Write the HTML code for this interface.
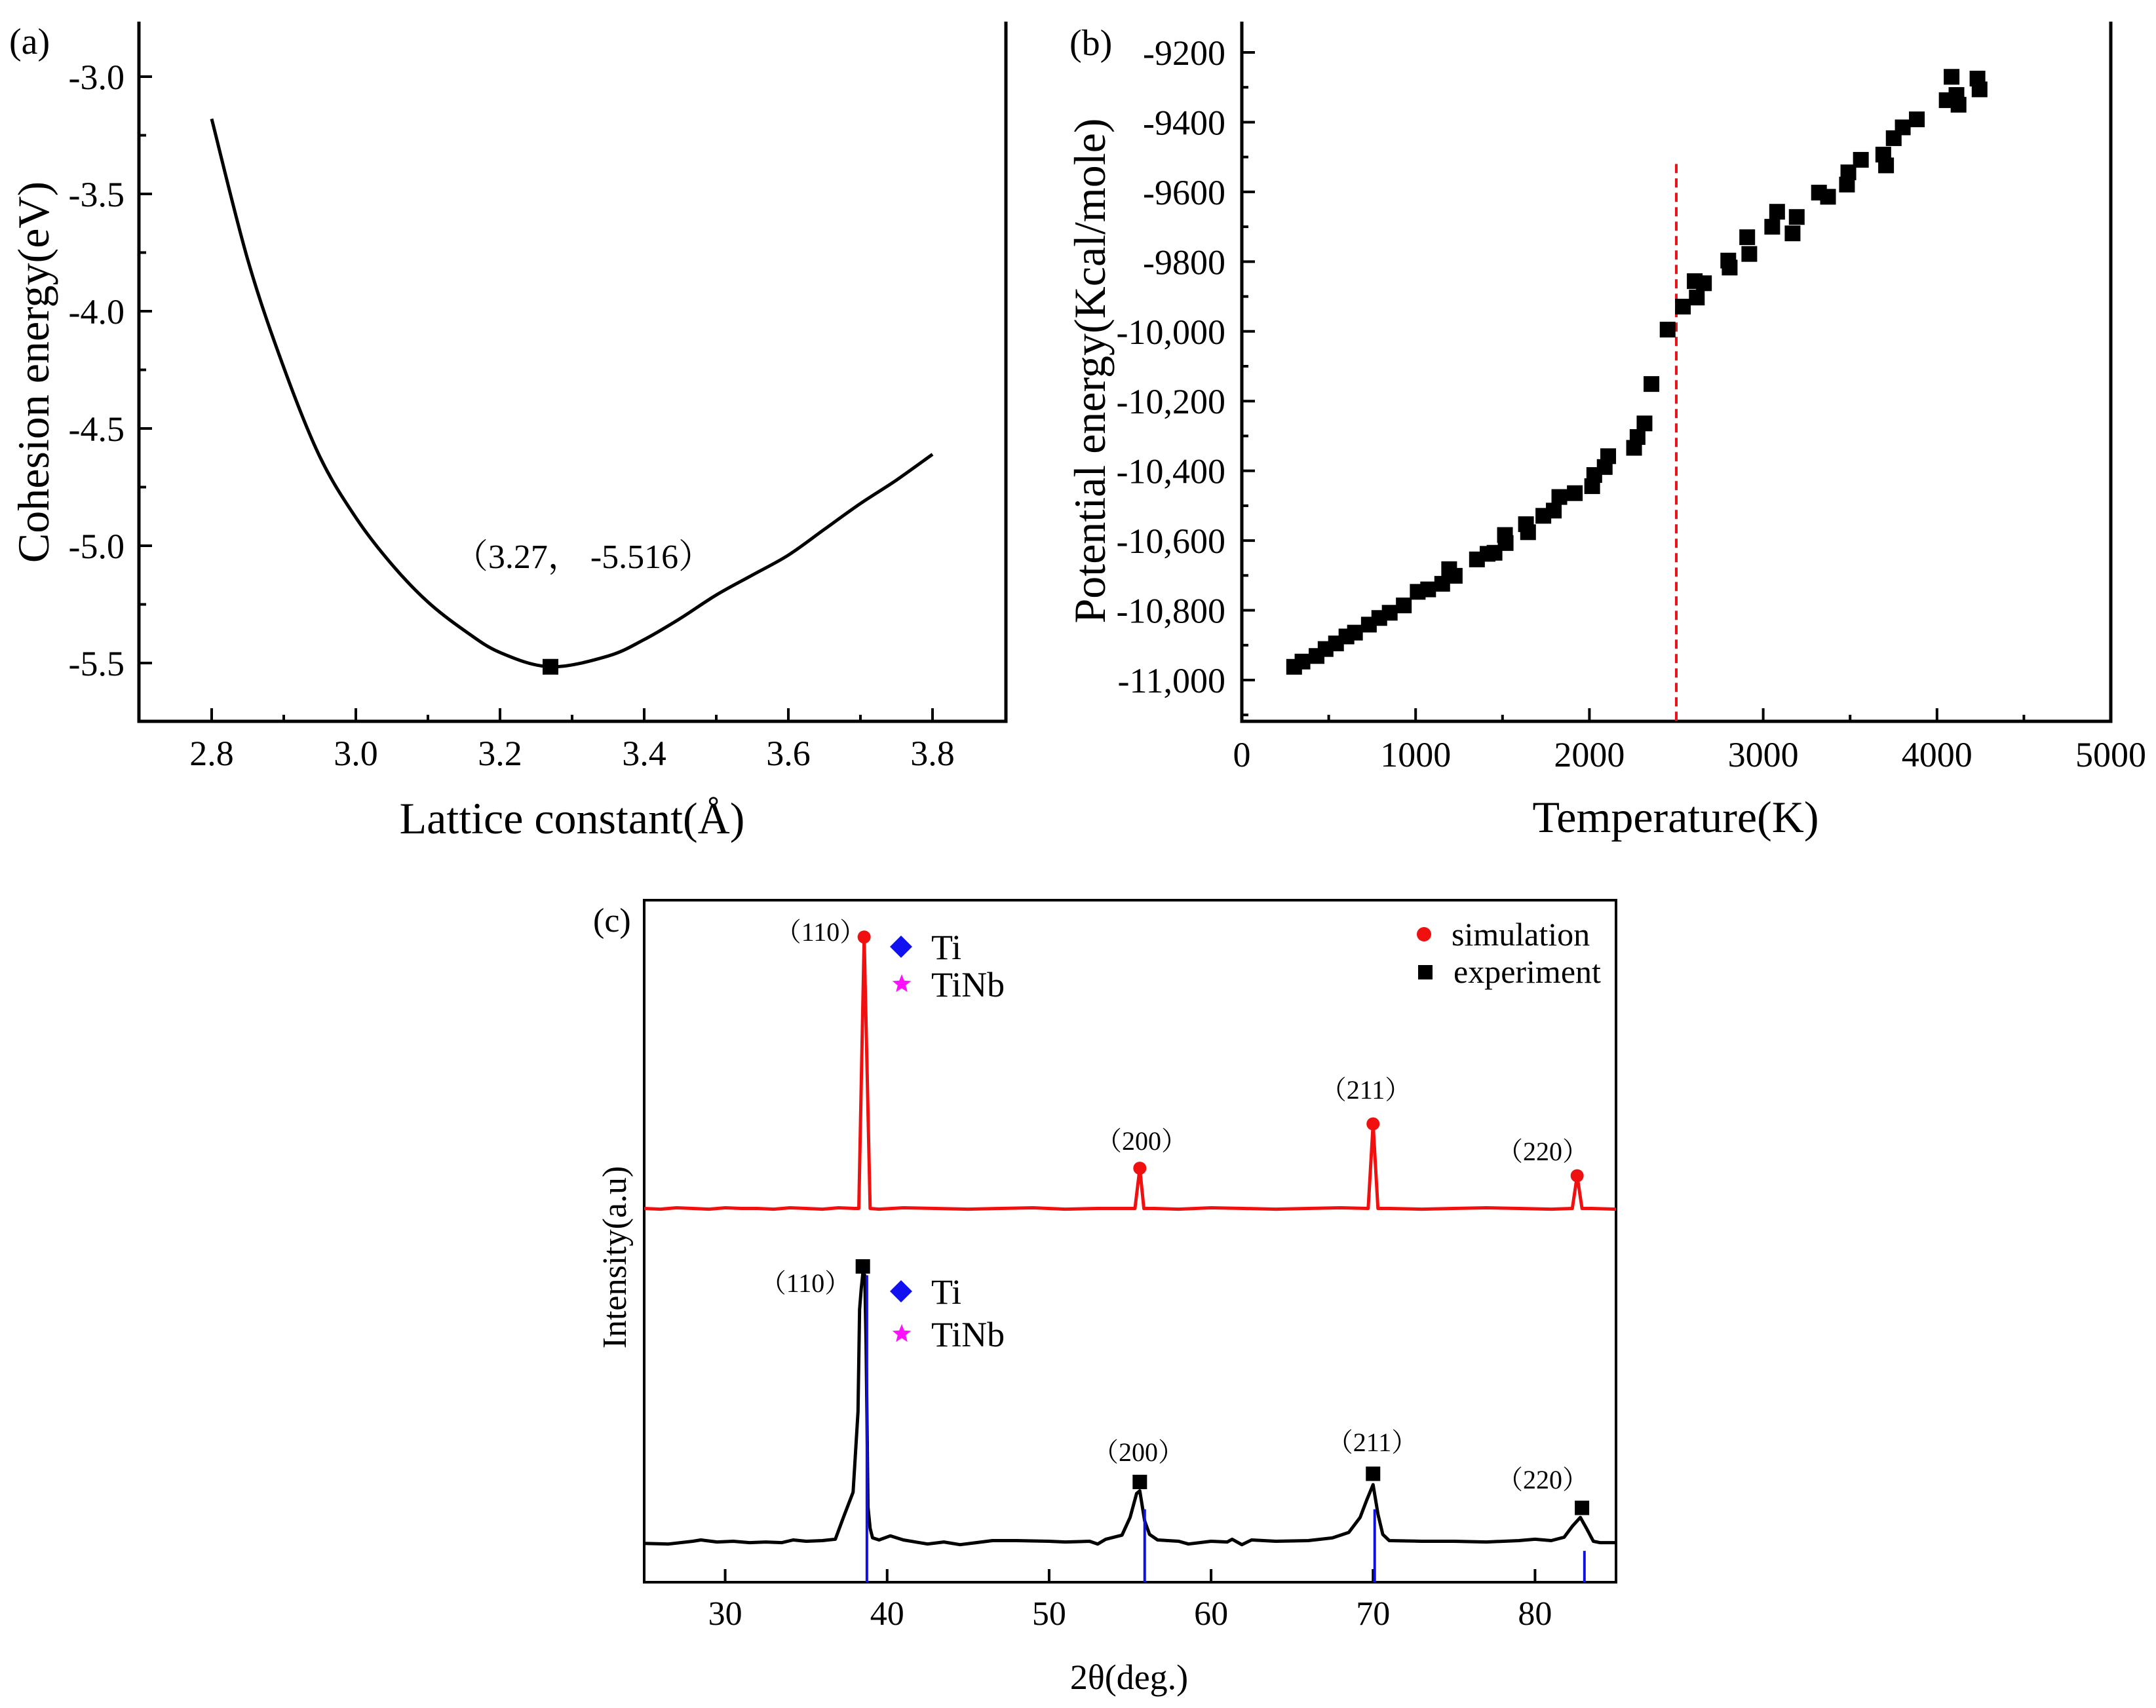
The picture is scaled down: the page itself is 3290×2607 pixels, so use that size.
<!DOCTYPE html>
<html><head><meta charset="utf-8"><style>
html,body{margin:0;padding:0;background:#fff;}
svg{display:block;font-family:"Liberation Serif","Noto Serif CJK SC",serif;}
</style></head><body>
<svg id="fig" width="3290" height="2607" viewBox="0 0 3290 2607" xmlns="http://www.w3.org/2000/svg">
<rect width="3290" height="2607" fill="#fff"/>
<g id="pa"></g>
<g id="pb"></g>
<g id="pc"></g>
</svg>
<script>
// ---- Panel (a) data ----
const aX = [2.8,2.85,2.9,2.95,3.0,3.05,3.1,3.15,3.2,3.27,3.35,3.4,3.45,3.5,3.55,3.6,3.65,3.7,3.75,3.8];
const aY = [-3.18,-3.78,-4.24,-4.62,-4.88,-5.08,-5.24,-5.36,-5.455,-5.516,-5.47,-5.40,-5.31,-5.21,-5.125,-5.04,-4.93,-4.82,-4.72,-4.61];
const aMinX = [3.27];
const aMinY = [-5.516];
const aXTicks = [2.8,3.0,3.2,3.4,3.6,3.8];
const aXLabels = ["2.8","3.0","3.2","3.4","3.6","3.8"];
const aYTicks = [-3.0,-3.5,-4.0,-4.5,-5.0,-5.5];
const aYLabels = ["-3.0","-3.5","-4.0","-4.5","-5.0","-5.5"];
// ---- Panel (b) data ----
const bT = [301,349,430,482,542,602,651,731,791,851,932,1012,1072,1153,1193,1225,1353,1414,1454,1514,1518,1635,1647,1735,1795,1827,1916,2016,2028,2088,2108,2257,2277,2317,2357,2450,2538,2606,2618,2659,2799,2807,2908,2920,3052,3080,3169,3193,3321,3373,3482,3490,3562,3691,3707,3751,3803,3884,4056,4084,4112,4124,4233,4245];
const bE = [-10962,-10947,-10931,-10911,-10895,-10875,-10864,-10841,-10822,-10807,-10786,-10747,-10740,-10724,-10682,-10701,-10654,-10638,-10635,-10584,-10607,-10553,-10576,-10529,-10514,-10475,-10464,-10444,-10412,-10389,-10358,-10334,-10303,-10264,-10151,-9995,-9929,-9856,-9903,-9862,-9797,-9817,-9730,-9778,-9700,-9657,-9719,-9672,-9602,-9614,-9579,-9544,-9508,-9493,-9524,-9446,-9415,-9392,-9337,-9270,-9322,-9350,-9275,-9306];
const bMeltT = [2500];
const bXTicks = [0,1000,2000,3000,4000,5000];
const bXLabels = ["0","1000","2000","3000","4000","5000"];
const bYTicks = [-9200,-9400,-9600,-9800,-10000,-10200,-10400,-10600,-10800,-11000];
const bYLabels = ["-9200","-9400","-9600","-9800","-10,000","-10,200","-10,400","-10,600","-10,800","-11,000"];
// ---- Panel (c) data ----
const cSimX = [25,26,27,28,29,30,31,32,33,34,35,36,37,38,38.25,38.58,38.95,39.5,41,43,45,47,49,51,53,55,55.3,55.6,55.85,56.5,58,60,62,64,66,68,69.7,70.0,70.3,71,73,75,77,79,81,82.3,82.6,82.9,83.5,85];
const cSimY = [54.8,54.7,54.9,54.8,54.7,54.9,54.8,54.8,54.7,54.9,54.8,54.7,54.9,54.8,54.8,94.6,54.8,54.7,54.9,54.8,54.7,54.8,54.9,54.7,54.8,54.8,54.8,60.7,54.8,54.8,54.7,54.9,54.8,54.7,54.8,54.9,54.8,67.2,54.8,54.8,54.7,54.8,54.9,54.8,54.7,54.8,59.6,54.8,54.8,54.7];
const cSimPeakX = [38.58,55.6,70.0,82.6];
const cSimPeakY = [94.6,60.7,67.2,59.6];
const cExpX = [25,26.5,28,28.5,29.5,30.5,31.5,32.5,33.5,34.2,35,36,36.8,37.3,37.9,38.2,38.3,38.4,38.5,38.62,38.7,38.82,38.95,39.1,39.5,40.2,41,42.5,43.5,44.5,45.5,46.5,48,50,51,52.5,53,53.5,54.5,55,55.4,55.6,55.9,56.2,56.7,58,58.6,60,61,61.3,61.9,62.5,64,66,67.5,68.5,69.2,69.6,70.0,70.3,70.6,71,73,75,77,79,80,81,81.8,82.3,82.8,83.2,83.6,84,85];
const cExpY = [5.7,5.6,6.0,6.2,5.9,6.0,5.8,5.9,5.8,6.2,6.0,6.1,6.3,9.5,13.2,25,40,43,45.3,45,35,11,7.9,6.5,6.2,6.8,6.2,5.6,5.9,5.5,5.8,6.1,6.1,6.0,5.9,6.0,5.6,6.3,6.9,9.5,13,13.4,9,7,6.2,6.0,5.6,6.0,5.9,6.3,5.5,6.2,6.0,6.1,6.5,7.3,9.5,12,14.3,10,7,6.1,6.0,6.0,5.9,6.1,6.3,6.1,6.6,8.2,9.5,7.8,6.0,5.8,5.8];
const cExpPeakX = [38.5,55.6,70.0,82.9];
const cExpPeakY = [46.3,14.7,15.9,10.9];
const cStickX = [38.75,55.9,70.1,83.05];
const cStickY = [45,10.7,10.7,4.6];
const cHkl = ["（110）","（200）","（211）","（220）"];
const cXTicks = [30,40,50,60,70,80];
const cXLabels = ["30","40","50","60","70","80"];

const NS = "http://www.w3.org/2000/svg";
function mk(parent, tag, attrs, txt){
  const e = document.createElementNS(NS, tag);
  for (const k in attrs) e.setAttribute(k, attrs[k]);
  if (txt !== undefined) e.textContent = txt;
  parent.appendChild(e);
  return e;
}
function lin(d0,d1,p0,p1){ return v => p0 + (v-d0)/(d1-d0)*(p1-p0); }
function smoothPath(P){
  let d = `M${P[0][0].toFixed(1)},${P[0][1].toFixed(1)}`;
  for (let i=0;i<P.length-1;i++){
    const p0=P[Math.max(0,i-1)], p1=P[i], p2=P[i+1], p3=P[Math.min(P.length-1,i+2)];
    const c1x=p1[0]+(p2[0]-p0[0])/6, c1y=p1[1]+(p2[1]-p0[1])/6;
    const c2x=p2[0]-(p3[0]-p1[0])/6, c2y=p2[1]-(p3[1]-p1[1])/6;
    d += ` C${c1x.toFixed(1)},${c1y.toFixed(1)} ${c2x.toFixed(1)},${c2y.toFixed(1)} ${p2[0].toFixed(1)},${p2[1].toFixed(1)}`;
  }
  return d;
}

// ================= Panel (a) =================
(function(){
  const g = document.getElementById('pa');
  const L=212,R=1535,T=33,B=1101;
  const sx = lin(2.7,3.9,213,1533);
  const sy = lin(-3.0,-5.5,117,1012);
  let e;
  e = mk(g,'path',{d:`M${L},${T} V${B} H${R} V${T}`,fill:'none',stroke:'#000','stroke-width':5});
  
  
  for (let v=2.8; v<=3.81; v+=0.1){
    const major = Math.abs(Math.round(v*10)%2)===0;
    const x = sx(v);
    e = mk(g,'line',{x1:x,x2:x,y1:B,y2:B-(major?20:10),stroke:'#000','stroke-width':4});
    
    
  }
  aXTicks.forEach((v,i)=>{
    const t = mk(g,'text',{x:sx(v),y:1168,'font-size':54,'text-anchor':'middle'},aXLabels[i]);
    
    
  });
  for (let v=-3.0; v>=-5.51; v-=0.25){
    const major = Math.abs(Math.round(v*4))%2===0;
    const y = sy(v);
    e = mk(g,'line',{x1:L,x2:L+(major?20:11),y1:y,y2:y,stroke:'#000','stroke-width':4});
    
    
  }
  aYTicks.forEach((v,i)=>{
    const t = mk(g,'text',{x:190,y:sy(v)+19,'font-size':54,'text-anchor':'end'},aYLabels[i]);
    
    
  });
  const P = aX.map((v,i)=>[sx(v), sy(aY[i])]);
  e = mk(g,'path',{d:smoothPath(P),fill:'none',stroke:'#000','stroke-width':5,'stroke-linejoin':'round'});
  
  
  aMinX.forEach((v,i)=>{
    const m = mk(g,'rect',{x:sx(v)-12,y:sy(aMinY[i])-12,width:24,height:24,fill:'#000'});
    
    
  });
  let t;
  t = mk(g,'text',{x:890,y:867,'font-size':52,'text-anchor':'middle'},'（3.27， -5.516）');
  
  
  t = mk(g,'text',{x:14,y:82,'font-size':56},'(a)');
  
  
  t = mk(g,'text',{x:0,y:0,'font-size':68,'text-anchor':'middle',transform:'translate(74,568) rotate(-90)'},'Cohesion energy(eV)');
  
  
  t = mk(g,'text',{x:873,y:1272,'font-size':68,'text-anchor':'middle'},'Lattice constant(Å)');
  
  
})();

// ================= Panel (b) =================
(function(){
  const g = document.getElementById('pb');
  const L=1895,R=3221,T=33,B=1101;
  const sx = lin(0,5000,L,R);
  const sy = lin(-9200,-11000,80,1038);
  let e,t;
  e = mk(g,'path',{d:`M${L},${T} V${B} H${R} V${T}`,fill:'none',stroke:'#000','stroke-width':5});
  
  
  for (let v=0; v<=5000; v+=500){
    const major = v%1000===0;
    const x = sx(v);
    e = mk(g,'line',{x1:x,x2:x,y1:B,y2:B-(major?20:10),stroke:'#000','stroke-width':4});
    
    
  }
  bXTicks.forEach((v,i)=>{
    t = mk(g,'text',{x:sx(v),y:1170,'font-size':54,'text-anchor':'middle'},bXLabels[i]);
    
    
  });
  for (let v=-9200; v>=-11100; v-=100){
    const major = v%200===0;
    const y = sy(v);
    e = mk(g,'line',{x1:L,x2:L+(major?20:10),y1:y,y2:y,stroke:'#000','stroke-width':4});
    
    
  }
  bYTicks.forEach((v,i)=>{
    t = mk(g,'text',{x:1870,y:sy(v)+19,'font-size':54,'text-anchor':'end'},bYLabels[i]);
    
    
  });
  bMeltT.forEach(v=>{
    e = mk(g,'line',{x1:sx(v),x2:sx(v),y1:sy(-9520),y2:B,stroke:'#e8141a','stroke-width':4,'stroke-dasharray':'14,8'});
    
    
  });
  bT.forEach((v,i)=>{
    const m = mk(g,'rect',{x:sx(v)-12,y:sy(bE[i])-12,width:24,height:24,fill:'#000'});
    
    
  });
  t = mk(g,'text',{x:1632,y:84,'font-size':56},'(b)');
  
  
  t = mk(g,'text',{x:0,y:0,'font-size':68,'text-anchor':'middle',transform:'translate(1686,566) rotate(-90)'},'Potential energy(Kcal/mole)');
  
  
  t = mk(g,'text',{x:2557,y:1270,'font-size':68,'text-anchor':'middle'},'Temperature(K)');
  
  
})();

// ================= Panel (c) =================
(function(){
  const g = document.getElementById('pc');
  const L=983,R=2466,T=1374,B=2415;
  const sx = lin(25,85,L,R);
  const sy = lin(0,100,B,B-1041);
  let e,t;
  e = mk(g,'rect',{x:L,y:T,width:R-L,height:B-T,fill:'none',stroke:'#000','stroke-width':4});
  
  
  for (let v=30; v<=80; v+=10){
    const x = sx(v);
    e = mk(g,'line',{x1:x,x2:x,y1:B,y2:B-20,stroke:'#000','stroke-width':4});
    
    
  }
  cXTicks.forEach((v,i)=>{
    t = mk(g,'text',{x:sx(v),y:2480,'font-size':52,'text-anchor':'middle'},cXLabels[i]);
    
    
  });
  const sp = cSimX.map((v,i)=>`${sx(v).toFixed(1)},${sy(cSimY[i]).toFixed(1)}`).join(' ');
  e = mk(g,'polyline',{points:sp,fill:'none',stroke:'#f01010','stroke-width':5,'stroke-linejoin':'round'});
  
  
  const ep = cExpX.map((v,i)=>`${sx(v).toFixed(1)},${sy(cExpY[i]).toFixed(1)}`).join(' ');
  e = mk(g,'polyline',{points:ep,fill:'none',stroke:'#000','stroke-width':5,'stroke-linejoin':'round'});
  
  
  cStickX.forEach((v,i)=>{
    e = mk(g,'line',{x1:sx(v),x2:sx(v),y1:B,y2:sy(cStickY[i]),stroke:'#1010e0','stroke-width':4});
    
    
  });
  cSimPeakX.forEach((v,i)=>{
    const m = mk(g,'circle',{cx:sx(v),cy:sy(cSimPeakY[i]),r:10,fill:'#f01010'});
    
    
  });
  cExpPeakX.forEach((v,i)=>{
    const m = mk(g,'rect',{x:sx(v)-11,y:sy(cExpPeakY[i])-11,width:22,height:22,fill:'#000'});
    
    
  });
  const topPos = [[1252,1436],[1742,1755],[2084,1677],[2354,1771]];
  const botPos = [[1229,1972],[1737,2230],[2094,2215],[2354,2272]];
  cHkl.forEach((s,i)=>{
    t = mk(g,'text',{x:topPos[i][0],y:topPos[i][1],'font-size':40,'text-anchor':'middle'},s);
    
    
    t = mk(g,'text',{x:botPos[i][0],y:botPos[i][1],'font-size':40,'text-anchor':'middle'},s);
    
    
  });
  [[1445,1502],[1971,2036]].forEach(p=>{
    e = mk(g,'polygon',{points:`1375,${p[0]-17} 1392,${p[0]} 1375,${p[0]+17} 1358,${p[0]}`,fill:'#1010f0'});
    
    
    t = mk(g,'text',{x:1421,y:p[0]+19,'font-size':54},'Ti');
    
    
    const cx=1376, cy=p[1], R1=15, r1=6.5; let pts=[];
    for(let k=0;k<10;k++){const a=-Math.PI/2+k*Math.PI/5; const rr=k%2?r1:R1; pts.push((cx+rr*Math.cos(a)).toFixed(1)+','+(cy+rr*Math.sin(a)).toFixed(1));}
    e = mk(g,'polygon',{points:pts.join(' '),fill:'#ff10ff'});
    
    
    t = mk(g,'text',{x:1421,y:p[1]+19,'font-size':54},'TiNb');
    
    
  });
  e = mk(g,'circle',{cx:2173,cy:1426,r:11,fill:'#f01010'});
  
  
  t = mk(g,'text',{x:2215,y:1443,'font-size':50},'simulation');
  
  
  e = mk(g,'rect',{x:2164,y:1473,width:22,height:22,fill:'#000'});
  
  
  t = mk(g,'text',{x:2218,y:1500,'font-size':50},'experiment');
  
  
  t = mk(g,'text',{x:905,y:1422,'font-size':52},'(c)');
  
  
  t = mk(g,'text',{x:0,y:0,'font-size':52,'text-anchor':'middle',transform:'translate(955,1919) rotate(-90)'},'Intensity(a.u)');
  
  
  t = mk(g,'text',{x:1723,y:2578,'font-size':54,'text-anchor':'middle'},'2θ(deg.)');
  
  
})();
</script>
</body></html>
